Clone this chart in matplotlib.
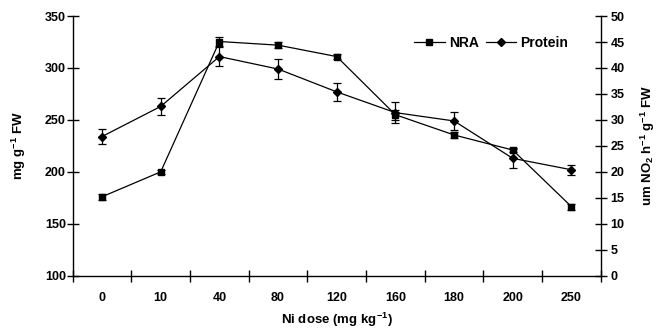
import matplotlib
matplotlib.use("Agg")
import matplotlib.pyplot as plt
import numpy as np
from matplotlib.lines import Line2D
from matplotlib.ticker import FixedLocator, NullFormatter, FixedFormatter

plt.rcParams['font.family'] = ['Liberation Sans', 'DejaVu Sans']
plt.rcParams['font.weight'] = 'bold'
plt.rcParams['axes.labelweight'] = 'bold'
plt.rcParams['font.size'] = 9
plt.rcParams['mathtext.fontset'] = 'custom'
plt.rcParams['mathtext.bf'] = 'Liberation Sans:bold'
plt.rcParams['mathtext.rm'] = 'Liberation Sans:bold'
plt.rcParams['mathtext.default'] = 'bf'

doses = ['0', '10', '40', '80', '120', '160', '180', '200', '250']
protein = [234, 263, 311, 299, 277, 257, 249, 213, 202]
protein_err = [7, 8, 9, 10, 9, 10, 9, 9, 5]
nra = [15.2, 20.0, 45.1, 44.4, 42.2, 31.0, 27.1, 24.2, 13.3]
nra_err = [0.6, 0.4, 0.8, 0.6, 0.4, 1.0, 0.6, 0.4, 0.6]

fig = plt.figure(figsize=(6.58, 3.28), dpi=100)
ax = fig.add_axes([0.1105, 0.1595, 0.8025, 0.7915])
ax2 = ax.twinx()

x = np.arange(len(doses)) + 0.5

ax2.errorbar(x, nra, yerr=nra_err, color='black', lw=0.9, marker='s', ms=4.5,
             capsize=3, elinewidth=0.9, capthick=0.9)
ax.errorbar(x, protein, yerr=protein_err, color='black', lw=0.9, marker='D', ms=4.5,
            capsize=3, elinewidth=0.9, capthick=0.9)

ax.set_xlim(0, len(doses))
ax.set_ylim(100, 350)
ax.set_yticks(np.arange(100, 351, 50))
ax2.set_ylim(0, 50)
ax2.set_yticks(np.arange(0, 51, 5))

ax.xaxis.set_major_locator(FixedLocator(np.arange(0, len(doses) + 1)))
ax.xaxis.set_major_formatter(NullFormatter())
ax.xaxis.set_minor_locator(FixedLocator(x))
ax.xaxis.set_minor_formatter(FixedFormatter(doses))
ax.tick_params(axis='x', which='major', direction='inout', length=8, width=1)
ax.tick_params(axis='x', which='minor', length=0, pad=12)
ax.tick_params(axis='y', direction='inout', length=8, width=1, pad=1)
ax2.tick_params(axis='y', direction='inout', length=8, width=1, pad=3)

for a in (ax, ax2):
    a.spines['top'].set_visible(False)
    for s in a.spines.values():
        s.set_linewidth(1)
ax.spines['right'].set_visible(False)
ax2.spines['left'].set_visible(False)
ax2.spines['bottom'].set_visible(False)

ax.set_ylabel('mg g$^{-1}$ FW', fontsize=9.5, labelpad=12)
ax2.set_ylabel('um NO$_{2}$ h$^{-1}$ g$^{-1}$ FW', fontsize=9.5, labelpad=10)
ax.set_xlabel('Ni dose (mg kg$^{-1}$)', fontsize=9.5, labelpad=4.5)

handles = [Line2D([], [], color='black', lw=0.9, marker='s', ms=4),
           Line2D([], [], color='black', lw=0.9, marker='D', ms=4)]
ax2.legend(handles, ['NRA', 'Protein'], loc='upper right', bbox_to_anchor=(0.962, 0.97),
           ncol=2, frameon=False, prop={'weight': 'bold', 'size': 10},
           handlelength=2.2, columnspacing=0.5, handletextpad=0.3)

fig.savefig('out.png', dpi=100)
